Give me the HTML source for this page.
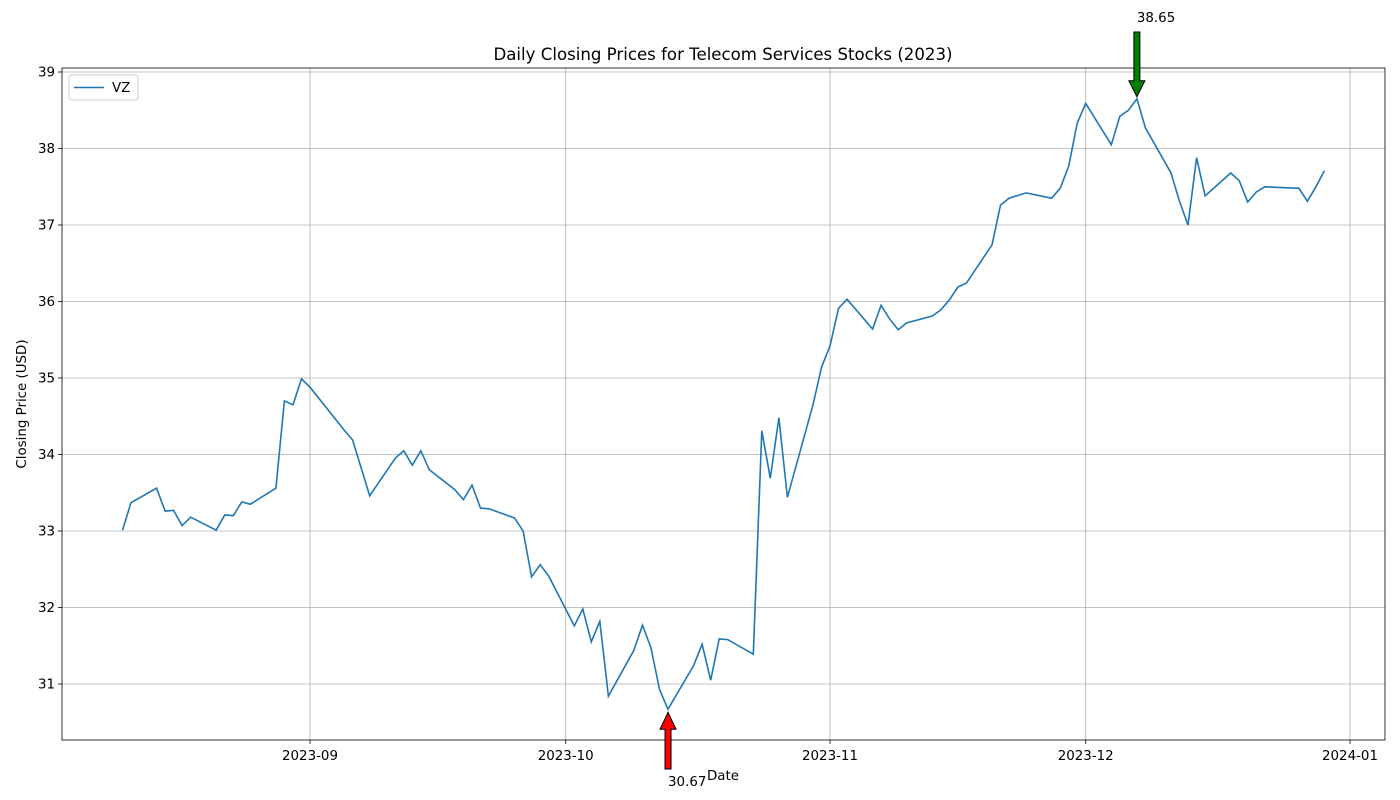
<!DOCTYPE html>
<html><head><meta charset="utf-8"><style>
body{margin:0;background:#fff;}
svg{display:block;font-family:"DejaVu Sans","Liberation Sans",sans-serif;}
</style></head><body>
<svg id="chart" width="1400" height="800" xmlns="http://www.w3.org/2000/svg"></svg>
<script>
const dates=["2023-08-10","2023-08-11","2023-08-14","2023-08-15","2023-08-16","2023-08-17","2023-08-18","2023-08-21","2023-08-22","2023-08-23","2023-08-24","2023-08-25","2023-08-28","2023-08-29","2023-08-30","2023-08-31","2023-09-01","2023-09-05","2023-09-06","2023-09-08","2023-09-11","2023-09-12","2023-09-13","2023-09-14","2023-09-15","2023-09-18","2023-09-19","2023-09-20","2023-09-21","2023-09-22","2023-09-25","2023-09-26","2023-09-27","2023-09-28","2023-09-29","2023-10-02","2023-10-03","2023-10-04","2023-10-05","2023-10-06","2023-10-09","2023-10-10","2023-10-11","2023-10-12","2023-10-13","2023-10-16","2023-10-17","2023-10-18","2023-10-19","2023-10-20","2023-10-23","2023-10-24","2023-10-25","2023-10-26","2023-10-27","2023-10-30","2023-10-31","2023-11-01","2023-11-02","2023-11-03","2023-11-06","2023-11-07","2023-11-08","2023-11-09","2023-11-10","2023-11-13","2023-11-14","2023-11-15","2023-11-16","2023-11-17","2023-11-20","2023-11-21","2023-11-22","2023-11-24","2023-11-27","2023-11-28","2023-11-29","2023-11-30","2023-12-01","2023-12-04","2023-12-05","2023-12-06","2023-12-07","2023-12-08","2023-12-11","2023-12-12","2023-12-13","2023-12-14","2023-12-15","2023-12-18","2023-12-19","2023-12-20","2023-12-21","2023-12-22","2023-12-26","2023-12-27","2023-12-28","2023-12-29"];
const prices=[33.01,33.37,33.56,33.26,33.27,33.07,33.18,33.01,33.21,33.20,33.38,33.35,33.56,34.70,34.65,34.99,34.88,34.32,34.19,33.46,33.95,34.05,33.86,34.05,33.80,33.54,33.41,33.60,33.30,33.29,33.17,33.00,32.40,32.56,32.41,31.76,31.98,31.55,31.82,30.84,31.44,31.77,31.47,30.93,30.67,31.24,31.52,31.05,31.59,31.58,31.39,34.31,33.69,34.48,33.44,34.65,35.14,35.42,35.91,36.03,35.64,35.95,35.77,35.63,35.72,35.81,35.89,36.02,36.19,36.24,36.74,37.26,37.35,37.42,37.35,37.48,37.77,38.33,38.59,38.05,38.42,38.50,38.65,38.27,37.68,37.31,37.00,37.88,37.38,37.68,37.58,37.30,37.43,37.50,37.48,37.31,37.50,37.71];
const xTickLabels=["2023-09","2023-10","2023-11","2023-12","2024-01"];
const yTickValues=[31,32,33,34,35,36,37,38,39];

const svg=document.getElementById('chart');
const NS='http://www.w3.org/2000/svg';
function mk(tag,attrs,parent){const e=document.createElementNS(NS,tag);for(const k in attrs)e.setAttribute(k,attrs[k]);(parent||svg).appendChild(e);return e;}
const L=62,R=1385,T=68,B=740;
const t0=Date.UTC(2023,8,1), t1=Date.UTC(2024,0,1);
function dayMs(s){const p=s.split('-');return Date.UTC(+p[0],+p[1]-1,+p[2]);}
function xS(s){return 310+(dayMs(s)-t0)/(t1-t0)*(1350-310);}
function yS(v){return 72+(39-v)*76.5;}

const grid=mk('g',{});


xTickLabels.forEach(lab=>{
  const x=xS(lab+"-01");
  mk('line',{x1:x,x2:x,y1:T,y2:B,stroke:'#b0b0b0','stroke-width':0.8},grid);
  mk('line',{x1:x,x2:x,y1:B,y2:B+4,stroke:'#000','stroke-width':0.8});
  const t=mk('text',{x:x,y:B+20,'text-anchor':'middle','font-size':13.4});
  
  
  t.textContent=lab;
});
yTickValues.forEach(v=>{
  const y=yS(v);
  mk('line',{x1:L,x2:R,y1:y,y2:y,stroke:'#b0b0b0','stroke-width':0.8},grid);
  mk('line',{x1:L-4,x2:L,y1:y,y2:y,stroke:'#000','stroke-width':0.8});
  const t=mk('text',{x:L-7,y:y+4.5,'text-anchor':'end','font-size':13.4});
  
  
  t.textContent=v;
});
const line=mk('polyline',{points:dates.map((d,i)=>xS(d).toFixed(1)+','+yS(prices[i]).toFixed(1)).join(' '),fill:'none',stroke:'#1f77b4','stroke-width':1.6});


const frame=mk('rect',{x:L,y:T,width:R-L,height:B-T,fill:'none',stroke:'#000','stroke-width':0.8});



let mi=0,ma=0;prices.forEach((p,i)=>{if(p<prices[mi])mi=i;if(p>prices[ma])ma=i;});
const mxX=xS(dates[ma]),mxY=yS(prices[ma]);
const ga=mk('polygon',{points:`${mxX-3},32 ${mxX+3},32 ${mxX+3},${mxY-18} ${mxX+8},${mxY-18} ${mxX},${mxY-2} ${mxX-8},${mxY-18} ${mxX-3},${mxY-18}`,fill:'green',stroke:'#000','stroke-width':1});


const gt=mk('text',{x:mxX,y:22,'font-size':13.4});


gt.textContent=prices[ma].toFixed(2);
const mnX=xS(dates[mi]),mnY=yS(prices[mi]);
const ra=mk('polygon',{points:`${mnX-3},769 ${mnX+3},769 ${mnX+3},${mnY+20} ${mnX+8},${mnY+20} ${mnX},${mnY+3} ${mnX-8},${mnY+20} ${mnX-3},${mnY+20}`,fill:'red',stroke:'#000','stroke-width':1});


const rt=mk('text',{x:mnX,y:786,'font-size':13.4});


rt.textContent=prices[mi].toFixed(2);

const title=mk('text',{x:723,y:60,'text-anchor':'middle','font-size':16.6});


title.textContent='Daily Closing Prices for Telecom Services Stocks (2023)';
const xt=mk('text',{x:723,y:780,'text-anchor':'middle','font-size':13.4});


xt.textContent='Date';
const yt=mk('text',{x:26,y:404,'text-anchor':'middle','font-size':13.4,transform:'rotate(-90 26 404)'});


yt.textContent='Closing Price (USD)';

const lg=mk('g',{});


mk('rect',{x:69,y:75,width:69,height:25,rx:3,fill:'#fff','fill-opacity':0.8,stroke:'#ccc'},lg);
mk('line',{x1:74,x2:104,y1:87.5,y2:87.5,stroke:'#1f77b4','stroke-width':1.6},lg);
const lt=mk('text',{x:112,y:92,'font-size':13.4},lg);


lt.textContent='VZ';
</script>
</body></html>
